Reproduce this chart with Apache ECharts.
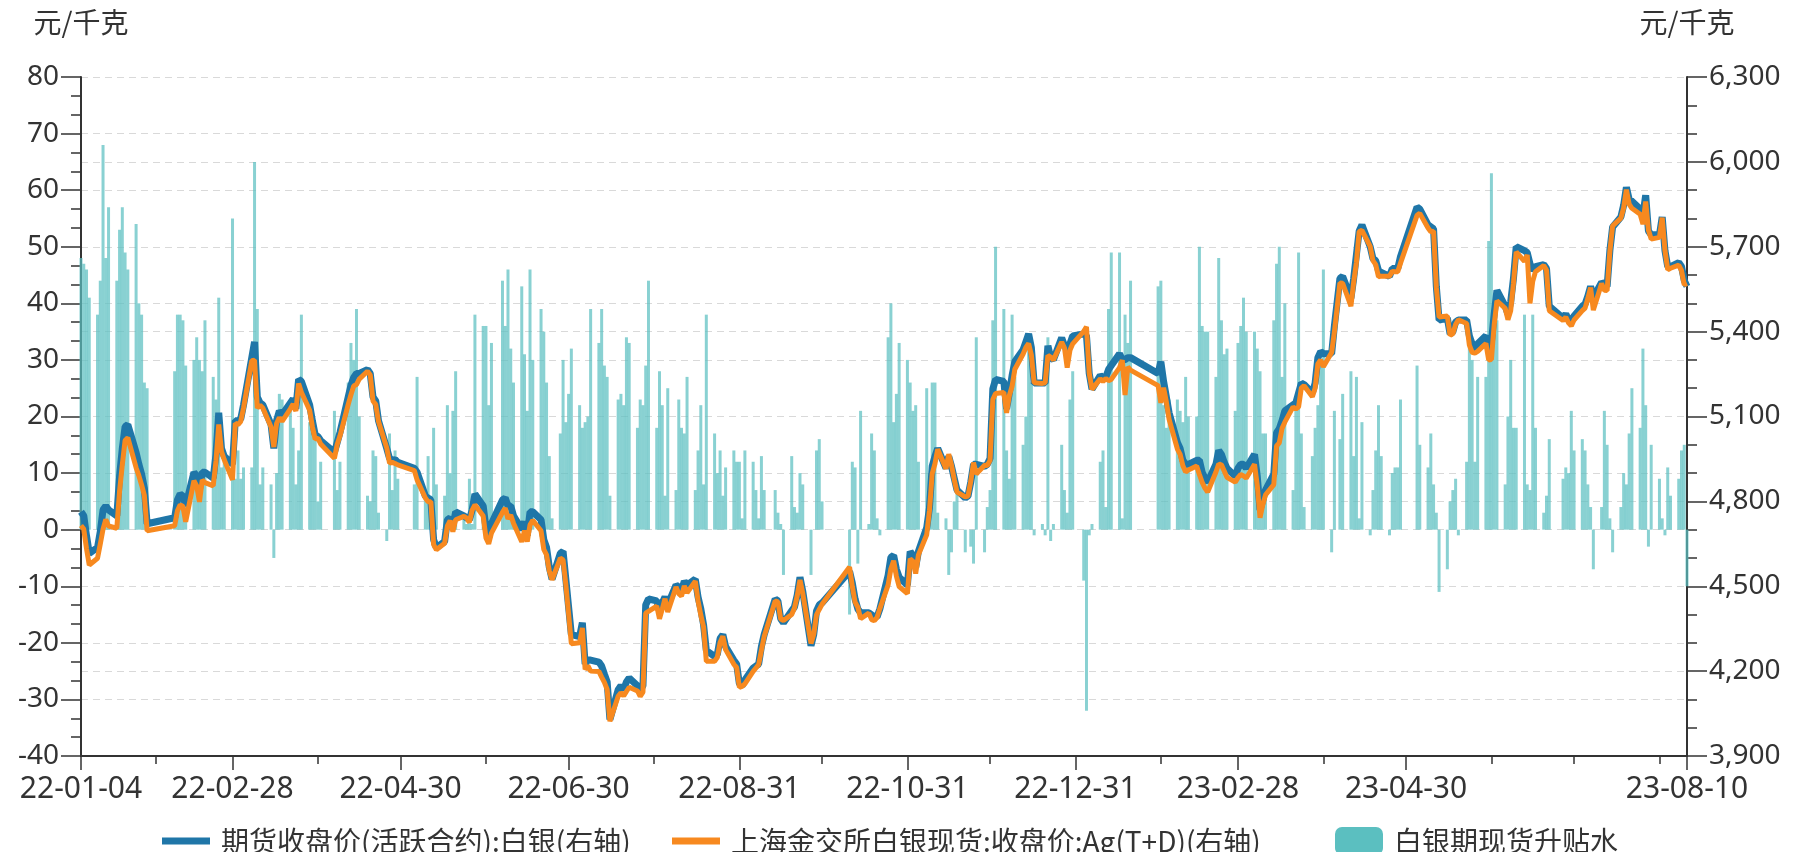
<!DOCTYPE html>
<html><head><meta charset="utf-8">
<script src="https://cdn.jsdelivr.net/npm/echarts/dist/echarts.min.js"></script>
<style>html,body{margin:0;padding:0;background:#fff}#c{width:1793px;height:852px}</style>
</head><body><div id="c"></div>
<script>
// ---- data ----
const seriesNames = ['期货收盘价(活跃合约):白银(右轴)', '上海金交所白银现货:收盘价:Ag(T+D)(右轴)', '白银期现货升贴水'];
const axisUnit = '元/千克';
const startDate = '2022-01-04', endDate = '2023-08-10';
const holidays = ['2022-01-31','2022-02-01','2022-02-02','2022-02-03','2022-02-04','2022-04-04','2022-04-05',
 '2022-05-02','2022-05-03','2022-05-04','2022-06-03','2022-09-12','2022-10-03','2022-10-04','2022-10-05',
 '2022-10-06','2022-10-07','2023-01-02','2023-01-23','2023-01-24','2023-01-25','2023-01-26','2023-01-27',
 '2023-04-05','2023-05-01','2023-05-02','2023-05-03','2023-06-22','2023-06-23'];
const labelDates = ['2022-01-04','2022-02-28','2022-04-30','2022-06-30','2022-08-31','2022-10-31','2022-12-31','2023-02-28','2023-04-30','2023-08-10'];
const leftTicks = {min: -40, max: 80, interval: 10};
const rightTicks = {min: 3900, max: 6300, interval: 300};

// futures close (blue), one value per trading day
const futures = [
 4763,4749,4679,4616, 4637,4693,4770,4784,4770, 4749,4889,4987,5064,5071, 4973,4931,4896,4847,4721,
 4742,4805,4826,4819,4784, 4903,4889,4840,4903,4903, 4882,4966,5113,4987,4959, 4931,
 5085,5085,5092,5141, 5308,5364,5169,5148,5141, 5071,4987,5085,5120,5106, 5148,5162,5127,5231,5224, 5141,5085,5036,5029,
 5015, 4973,5008,5043, 5169,5210,5238,5252,5252, 5266,5252,5169,5155,5085, 4987,4952,4945,4948,4938,
 4917,4903, 4819,4812,4805,4665,4637, 4658,4735,4742,4714,4763, 4749,4742,4735,4770,4826, 4784,4707,
 4672,4721, 4805,4812,4784,4784,4749, 4700,4728,4679,4763,4763, 4735,4665,4637,4567,4525, 4616,4623,4525,4427,
 4329, 4322,4371,4225,4239,4239, 4232,4218,4189,4162,4029, 4134,4148,4134,4162,4176, 4148,4134,4148,4434,4455,
 4448,4413,4441,4462,4434, 4504,4497,4483,4518,4504, 4525,4462,4420,4364,4273, 4252,4259,4315,4329,4287, 4238,4225,4155,
 4148,4169, 4211,4218,4225,4287,4329, 4455,4448,4385,4371, 4413,4427,4469,4532,4483, 4290,4330,4413,4434,4441,
 4553,4511,4455,4420,4406, 4406,4399,4392,4392,4420, 4539,4602,4609,4560,4532, 4504,
 4623,4609,4567,4623, 4707,4777,4924,4959,4987, 4917,4959,4924,4882,4840, 4812,4819,4868,4931,4931, 4924,4931,4952,
 5197,5231, 5224,5127,5183,5245,5294, 5336,5364,5392,5343,5218, 5218,5218,5350,5308,5301, 5378,5350,5336,5357,5385,
 5392,5385,5252,5197, 5245,5238,5238,5266,5280, 5322,5301,5301,5308,5308, 5252,5294,
 5224,5169,5113, 5008,4987,4945,4931,4931, 4945,4945,4903,4882,4868, 4931,4980,4966,4938,4917, 4889,4917,
 4931,4931,4917, 4966,4889,4770,4805,4840, 4896,5043,5057,5085,5120, 5141,5148,5183,5218,5213, 5183,5218,5308,5329,5322,
 5322,5420, 5588,5595, 5518,5588,5672,5756,5777, 5700,5658,5651,5616,5609, 5595,5623,5623,5623,5665,
 5840,5833, 5777,5770,5763,5560,5441, 5448,5392,5399,5434,5441, 5441,5385,5357,5336,5357, 5385,5336,5364,
 5462,5546, 5490,5462,5504,5588,5700, 5686,5679,5640,5616,5630, 5637,5623,5490, 5448,5462,5441,5441,5455,
 5490,5497,5525,5560,5520, 5574,5567,5560,5686,5770, 5805,5847,5910,5868,5861, 5833,5812,5882,5756,5742, 5742,
 5805,5686,5630,5630, 5644,5630,5581,5560
];
// SGE Ag(T+D) close (orange)
const spot = [
 4715,4702,4633,4575, 4599,4649,4702,4736,4713, 4705,4836,4930,5015,5025, 4919,4891,4858,4821,4696,
 4714,4767,4788,4782,4728, 4873,4855,4798,4875,4866, 4855,4943,5072,4976,4947, 4876,
 5076,5071,5083,5130, 5297,5299,5130,5140,5130, 5063,4992,5075,5096,5083, 5127,5144,5119,5217,5186, 5122,5064,5020,5024,
 5003, 4952,5001,5031, 5143,5177,5208,5213,5232, 5260,5247,5155,5142,5082, 4989,4935,4938,4934,4929,
 4909,4876, 4812,4799,4799,4647,4629, 4652,4713,4732,4693,4735, 4747,4741,4726,4769,4788, 4748,4671,
 4650,4688, 4761,4776,4738,4752,4723, 4657,4697,4658,4717,4733, 4696,4630,4611,4554,4523, 4599,4593,4506,4403,
 4297, 4300,4353,4206,4219,4200, 4199,4179,4160,4135,4023, 4111,4124,4112,4128,4143, 4130,4111,4126,4405,4411,
 4430,4385,4419,4456,4409, 4497,4474,4465,4501,4477, 4518,4448,4398,4356,4235, 4235,4249,4301,4323,4276, 4224,4213,4143,
 4146,4155, 4199,4211,4223,4274,4322, 4448,4445,4384,4379, 4400,4423,4466,4522,4475, 4298,4330,4399,4418,4436,
 4568,4499,4444,4426,4385, 4405,4382,4378,4390,4421, 4505,4562,4590,4536,4499, 4474,
 4597,4588,4545,4611, 4682,4767,4898,4933,4984, 4915,4967,4928,4877,4833, 4816,4819,4871,4937,4897, 4928,4927,4945,
 5160,5181, 5185,5113,5174,5207,5267, 5321,5344,5358,5317,5219, 5217,5219,5316,5310,5300, 5363,5343,5273,5334,5357,
 5401,5417,5253,5196, 5233,5224,5234,5227,5231, 5273,5299,5176,5275,5264, 5209,5148,
 5202,5151,5090, 4985,4966,4926,4904,4911, 4925,4895,4867,4847,4833, 4904,4932,4929,4907,4885, 4868,4884,
 4895,4890,4882, 4931,4857,4742,4788,4823, 4859,4996,5007,5058,5080, 5134,5126,5134,5201,5209, 5170,5200,5286,5300,5276,
 5326,5399, 5572,5571, 5490,5575,5645,5754,5758, 5701,5651,5637,5594,5596, 5596,5613,5612,5612,5642,
 5811,5818, 5766,5753,5755,5557,5452, 5455,5387,5392,5425,5442, 5429,5352,5327,5324,5330, 5358,5300,5301,
 5423,5509, 5482,5442,5474,5570,5682, 5648,5671,5500,5578,5612, 5634,5617,5474, 5439,5451,5431,5420,5441,
 5474,5483,5517,5556,5476, 5570,5546,5545,5684,5774, 5801,5837,5902,5851,5836, 5815,5780,5860,5759,5727, 5733,
 5803,5687,5619,5624, 5635,5616,5566,5570
];
// futures-spot basis (bars, left axis)
const spread = [
 48,47,46,41, 38,44,68,48,57, 44,53,57,49,46, 54,40,38,26,25,
 28,38,38,37,29, 30,34,30,28,37, 27,23,41,11,12, 55,
 9,14,9,11, 11,65,39,8,11, 8,-5,10,24,23, 21,18,8,14,38, 19,21,16,5,
 12, 21,7,12, 26,33,30,39,20, 6,5,14,13,3, -2,17,7,14,9,
 8,27, 7,13,6,18,8, 6,22,10,21,28, 2,1,9,1,38, 36,36,
 22,33, 44,36,46,32,26, 43,31,21,46,30, 39,35,26,13,2, 17,30,19,24,
 32, 22,18,19,20,39, 33,39,29,27,6, 23,24,22,34,33, 18,23,22,29,44,
 18,28,22,6,25, 7,23,18,17,27, 7,14,22,8,38, 17,10,14,6,11, 14,12,12,
 2,14, 12,7,2,13,7, 7,3,1,-8, 13,4,3,10,8, -8,0,14,16,5,
 -15,12,11,-6,21, 1,17,14,2,-1, 34,40,19,24,33, 30,
 26,21,22,12, 25,10,26,26,3, 2,-8,-4,5,7, -4,0,-3,-6,34, -4,4,7,
 37,50, 39,14,9,38,27, 15,20,34,26,-1, 1,-1,34,-2,1, 15,7,3,23,28,
 -9,-32,-1,1, 12,14,4,39,49, 49,2,38,33,44, 43,44,
 22,18,23, 23,21,19,27,20, 20,50,36,35,35, 27,48,37,31,32, 21,33,
 36,41,35, 35,32,28,17,17, 37,47,50,27,40, 7,22,49,17,4, 13,18,22,29,46,
 -4,21, 16,24, 28,13,27,2,19, -1,7,14,22,13, -1,10,11,11,23,
 29,15, 11,17,8,3,-11, -7,5,7,9,-1, 12,33,30,12,27, 27,51,63,
 39,37, 8,20,30,18,18, 38,8,7,38,18, 3,6,16, 9,11,10,21,14,
 16,14,8,4,-7, 4,21,15,2,-4, 4,10,8,17,25, 18,32,22,-3,15, 9,
 2,-1,11,6, 9,14,15,-10
];

// ---- calendar axis ----
const calendar = [];
for (let t = Date.parse(startDate + 'T00:00:00Z'); t <= Date.parse(endDate + 'T00:00:00Z'); t += 86400000) {
  calendar.push(new Date(t).toISOString().slice(0, 10));
}
const holSet = new Set(holidays);
const tradingDates = calendar.filter(s => {
  const wd = new Date(s + 'T00:00:00Z').getUTCDay();
  return wd !== 0 && wd !== 6 && !holSet.has(s);
});
const pos = {}; tradingDates.forEach((d, k) => pos[d] = k);
const onCalendar = arr => calendar.map(d => pos[d] === undefined ? null : (arr[pos[d]] === undefined ? null : arr[pos[d]]));
const labelIdx = new Set(labelDates.map(d => calendar.indexOf(d)));
const monthEndIdx = new Set();
calendar.forEach((d, i) => {
  if (i === 0 || i === calendar.length - 1 || d.slice(5, 7) !== calendar[i + 1].slice(5, 7)) monthEndIdx.add(i);
});

const numFont = "'Noto Sans', 'DejaVu Sans', sans-serif";
const cjkFont = "'Noto Sans CJK SC', 'Noto Sans', sans-serif";
const axisColor = '#333';
const blue = '#1f76a8', orange = '#f7891f', teal = '#5bbfc0';

const chart = echarts.init(document.getElementById('c'), null, {renderer: 'canvas'});
const legendBase = {
  orient: 'horizontal', top: 822, itemGap: 30, selectedMode: false,
  textStyle: {fontSize: 28, color: '#333', fontFamily: cjkFont, padding: [0, 0, 0, 6]}
};
chart.setOption({
  animation: false,
  backgroundColor: '#fff',
  grid: {left: 81, right: 106, top: 77, bottom: 96, containLabel: false},
  legend: [
    Object.assign({}, legendBase, {left: 157, data: [seriesNames[0]], icon: 'rect', itemWidth: 48, itemHeight: 7}),
    Object.assign({}, legendBase, {left: 667, data: [seriesNames[1]], icon: 'rect', itemWidth: 48, itemHeight: 7}),
    Object.assign({}, legendBase, {left: 1330, data: [seriesNames[2]], icon: 'roundRect', itemWidth: 48, itemHeight: 28,
      itemStyle: {color: teal, opacity: 1}})
  ],
  xAxis: [
    {
      type: 'category', data: calendar, boundaryGap: false,
      axisLine: {onZero: false, lineStyle: {color: axisColor, width: 2}},
      axisTick: {interval: (i) => labelIdx.has(i), length: 14, lineStyle: {color: axisColor, width: 1.5}},
      axisLabel: {interval: (i) => labelIdx.has(i), formatter: v => v.slice(2), fontSize: 30, color: '#333',
        fontFamily: numFont, margin: 18, hideOverlap: false},
      splitLine: {show: false}
    },
    {
      type: 'category', data: calendar, boundaryGap: false, position: 'bottom',
      axisLine: {show: false, onZero: false},
      axisTick: {interval: (i) => monthEndIdx.has(i) && !labelIdx.has(i), length: 8, lineStyle: {color: axisColor, width: 1.5}},
      axisLabel: {show: false}, splitLine: {show: false}
    }
  ],
  yAxis: [
    {
      type: 'value', min: leftTicks.min, max: leftTicks.max, interval: leftTicks.interval, position: 'left',
      name: axisUnit, nameLocation: 'end', nameGap: 55,
      nameTextStyle: {fontSize: 28, color: '#333', fontFamily: cjkFont, align: 'center', verticalAlign: 'middle'},
      axisLine: {show: true, lineStyle: {color: axisColor, width: 2}},
      axisTick: {show: true, length: 20, lineStyle: {color: axisColor, width: 1.5}},
      minorTick: {show: true, splitNumber: 3, length: 10, lineStyle: {color: axisColor, width: 1.5}},
      axisLabel: {fontSize: 28, color: '#333', fontFamily: numFont, margin: 22},
      splitLine: {show: true, lineStyle: {color: '#d9d9d9', type: [7, 5], width: 1}}
    },
    {
      type: 'value', min: rightTicks.min, max: rightTicks.max, interval: rightTicks.interval, position: 'right',
      name: axisUnit, nameLocation: 'end', nameGap: 55,
      nameTextStyle: {fontSize: 28, color: '#333', fontFamily: cjkFont, align: 'center', verticalAlign: 'middle'},
      axisLine: {show: true, lineStyle: {color: axisColor, width: 2}},
      axisTick: {show: true, length: 20, lineStyle: {color: axisColor, width: 1.5}},
      minorTick: {show: true, splitNumber: 3, length: 10, lineStyle: {color: axisColor, width: 1.5}},
      axisLabel: {fontSize: 28, color: '#333', fontFamily: numFont, margin: 22,
        formatter: v => String(v).replace(/\B(?=(\d{3})+(?!\d))/g, ',')},
      splitLine: {show: true, lineStyle: {color: '#d9d9d9', type: [7, 5], width: 1}}
    }
  ],
  series: [
    {name: seriesNames[2], type: 'bar', xAxisIndex: 0, yAxisIndex: 0, data: onCalendar(spread), barWidth: 3,
      itemStyle: {color: teal, opacity: 0.72}, z: 1},
    {name: seriesNames[0], type: 'line', xAxisIndex: 0, yAxisIndex: 1, data: onCalendar(futures), connectNulls: true,
      symbol: 'none', lineStyle: {color: blue, width: 7}, itemStyle: {color: blue}, z: 3},
    {name: seriesNames[1], type: 'line', xAxisIndex: 0, yAxisIndex: 1, data: onCalendar(spot), connectNulls: true,
      symbol: 'none', lineStyle: {color: orange, width: 5}, itemStyle: {color: orange}, z: 4}
  ]
});
if (tradingDates.length !== futures.length) console.log('count mismatch', tradingDates.length, futures.length);
</script></body></html>
